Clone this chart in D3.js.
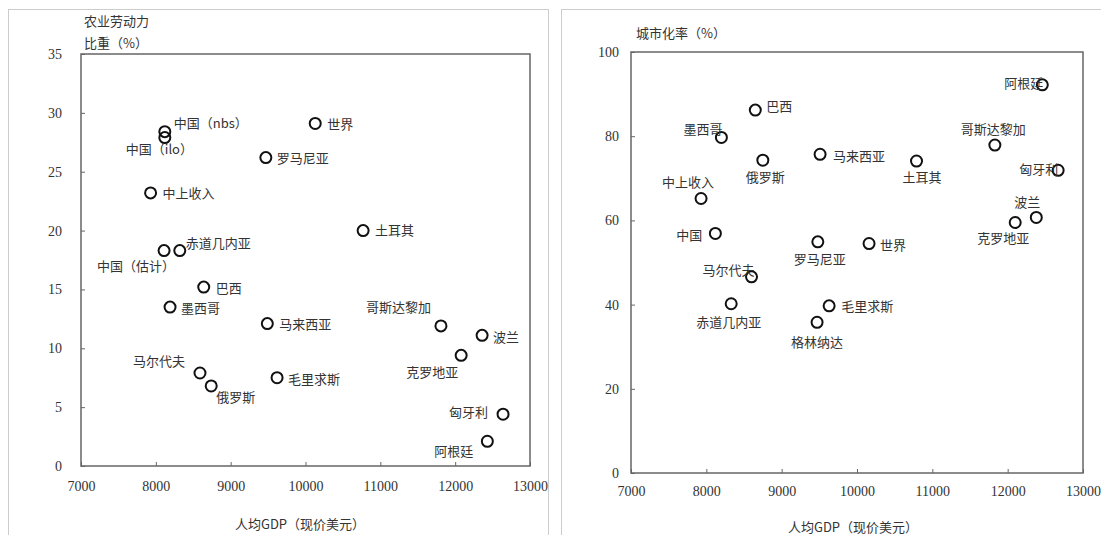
<!DOCTYPE html>
<html>
<head>
<meta charset="utf-8">
<script src="https://cdn.jsdelivr.net/npm/d3@7"></script>
<style>
  body { margin: 0; background: #fff; }
  svg { display: block; }
  text { font-family: "Noto Sans CJK SC", sans-serif; fill: #333; }
  .num { font-family: "Liberation Serif", serif; }
</style>
</head>
<body>
<svg id="chart" width="1101" height="535"></svg>
<script>
// left panel: agricultural labour share vs GDP per capita
const namesL = ["中国（nbs）", "中国（ilo）", "世界", "罗马尼亚", "中上收入", "土耳其", "中国（估计）", "赤道几内亚",
  "巴西", "墨西哥", "马来西亚", "哥斯达黎加", "波兰", "克罗地亚", "马尔代夫", "俄罗斯", "毛里求斯", "匈牙利", "阿根廷"];
const gdpL  = [8120, 8120, 10130, 9470, 7930, 10770, 8110, 8320, 8640, 8190, 9490, 11810, 12360, 12080, 8590, 8740, 9620, 12640, 12430];
const agriL = [28.4, 27.9, 29.1, 26.2, 23.2, 20.0, 18.3, 18.3, 15.2, 13.5, 12.1, 11.9, 11.1, 9.4, 7.9, 6.8, 7.5, 4.4, 2.1];

// right panel: urbanisation rate vs GDP per capita
const namesR = ["阿根廷", "巴西", "墨西哥", "哥斯达黎加", "马来西亚", "俄罗斯", "土耳其", "匈牙利", "中上收入", "波兰",
  "克罗地亚", "中国", "罗马尼亚", "世界", "马尔代夫", "赤道几内亚", "毛里求斯", "格林纳达"];
const gdpR   = [12460, 8650, 8200, 11830, 9510, 8750, 10790, 12670, 7930, 12380, 12100, 8120, 9480, 10160, 8600, 8330, 9630, 9470];
const urbanR = [92.2, 86.2, 79.7, 77.9, 75.7, 74.3, 74.1, 71.9, 65.2, 60.7, 59.5, 56.9, 54.9, 54.5, 46.6, 40.2, 39.7, 35.8];

const xTicks  = [7000, 8000, 9000, 10000, 11000, 12000, 13000];
const yTicksL = [0, 5, 10, 15, 20, 25, 30, 35];
const yTicksR = [0, 20, 40, 60, 80, 100];

// label offsets from the marker (px), text starts there, vertically centred
const offL = [[9,-9],[-39,11],[12,0],[11,0],[12,0],[12,-1],[-67,15],[6,-8],[12,0],[11,0],[12,0],
  [-75,-19],[11,1],[-55,16],[-67,-13],[5,11],[11,1],[-54,-3],[-53,9]];
const offR = [[-38,-2],[11,-5],[-38,-9],[-34,-17],[13,1],[-17,16],[-14,15],[-39,-2],[-39,-17],[-22,-16],
  [-38,15],[-39,1],[-24,17],[11,1],[-49,-7],[-35,18],[12,0],[-26,19]];

const svg = d3.select("#chart");

// panel borders
svg.append("rect").attr("x", 8.5).attr("y", 9.5).attr("width", 540).attr("height", 540)
  .attr("fill", "none").attr("stroke", "#ccc");
svg.append("rect").attr("x", 561.5).attr("y", 9.5).attr("width", 540).attr("height", 540)
  .attr("fill", "none").attr("stroke", "#ccc");

function panel(cfg) {
  let x = d3.scaleLinear().domain([7000, 13000]).range([cfg.left, cfg.right]);
  let y = d3.scaleLinear().domain([0, cfg.ymax]).range([cfg.bottom, cfg.top]);

  svg.append("g")
  .attr("transform", "translate(0," + cfg.bottom + ")")
  .call(d3.axisBottom(x).tickValues(xTicks).tickSizeInner(-4).tickSizeOuter(0).tickPadding(cfg.xpad).tickFormat(d3.format("d")))
  .call(g => g.select(".domain").remove())
  .call(g => g.selectAll("line").attr("stroke", "#666"))
  .call(g => g.selectAll("text").attr("class", "num").attr("font-size", 14).attr("fill", "#333"));

  svg.append("g")
  .attr("transform", "translate(" + cfg.left + ",0)")
  .call(d3.axisLeft(y).tickValues(cfg.yTicks).tickSizeInner(-4).tickSizeOuter(0).tickPadding(cfg.ypad))
  .call(g => g.select(".domain").remove())
  .call(g => g.selectAll("line").attr("stroke", "#666"))
  .call(g => g.selectAll("text").attr("class", "num").attr("font-size", 14).attr("fill", "#333"));

  svg.append("rect")
  .attr("x", cfg.left).attr("y", cfg.top)
  .attr("width", cfg.right - cfg.left).attr("height", cfg.bottom - cfg.top)
  .attr("fill", "none").attr("stroke", "#666").attr("stroke-width", 1.5);

  let pts = svg.append("g");
  pts.selectAll("circle")
  .data(cfg.names)
  .join("circle")
  .attr("cx", (d, i) => x(cfg.xs[i]))
  .attr("cy", (d, i) => y(cfg.ys[i]))
  .attr("r", 5.5)
  .attr("fill", "none")
  .attr("stroke", "#111")
  .attr("stroke-width", 2);

  pts.selectAll("text")
  .data(cfg.names)
  .join("text")
  .attr("x", (d, i) => x(cfg.xs[i]) + cfg.off[i][0])
  .attr("y", (d, i) => y(cfg.ys[i]) + cfg.off[i][1])
  .attr("dominant-baseline", "central")
  .attr("font-size", 13)
  .text(d => d);

  cfg.ytitle.forEach((t, i) => {
    svg.append("text")
    .attr("x", cfg.ytx).attr("y", cfg.yty + i * 22)
    .attr("dominant-baseline", "central")
    .attr("font-size", 13)
    .text(t);
  });

  svg.append("text")
  .attr("x", cfg.xtx).attr("y", cfg.xty)
  .attr("text-anchor", "middle")
  .attr("dominant-baseline", "central")
  .attr("font-size", 13)
  .text("人均GDP（现价美元）");
}

panel({
  left: 81, right: 530, top: 54, bottom: 466, ymax: 35, yTicks: yTicksL, ypad: 19, xpad: 15,
  names: namesL, xs: gdpL, ys: agriL, off: offL,
  ytitle: ["农业劳动力", "比重（%）"], ytx: 84, yty: 20, xtx: 300, xty: 523
});

panel({
  left: 631, right: 1083, top: 52, bottom: 473, ymax: 100, yTicks: yTicksR, ypad: 12, xpad: 13,
  names: namesR, xs: gdpR, ys: urbanR, off: offR,
  ytitle: ["城市化率（%）"], ytx: 636, yty: 32, xtx: 853, xty: 526
});
</script>
</body>
</html>
